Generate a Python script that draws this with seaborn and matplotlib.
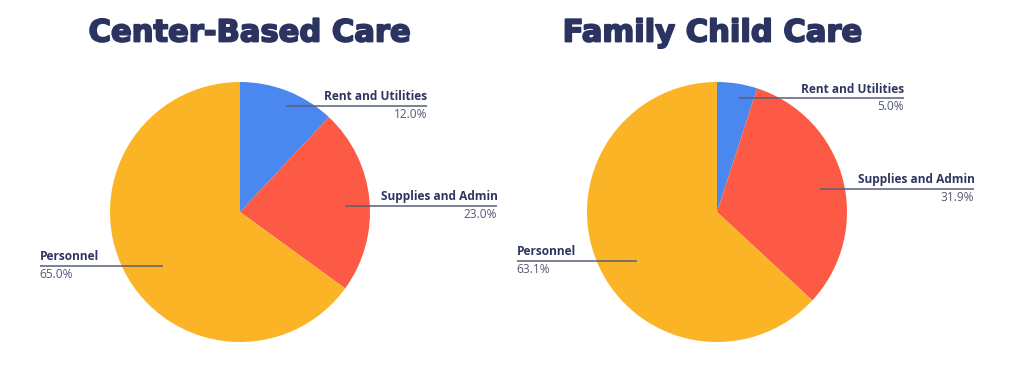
import numpy as np
import matplotlib
matplotlib.use("Agg")
import matplotlib.pyplot as plt
import matplotlib.patheffects as pe
import seaborn as sns

# =========================
# DATA
# =========================
categories = ["Rent and Utilities", "Supplies and Admin", "Personnel"]
center_values = [12.0, 23.0, 65.0]
family_values = [5.0, 31.9, 63.1]
titles = ["Center-Based Care", "Family Child Care"]
colors = ["#4a87ee", "#fd5a46", "#fbb426"]

# label layout per slice: (anchor radius, angle shift, label end x in radii)
label_layout = [(0.89, -2, 1.44), (0.81, -2, 1.98), (0.72, 8, -1.54)]

sns.set_theme(style="white")
plt.rcParams["font.family"] = ["Open Sans", "DejaVu Sans"]

TITLE_COLOR = "#2b3360"
LABEL_COLOR = "#2e3561"
PCT_COLOR = "#555a76"
LINE_COLOR = "#5a5e78"

W, H, R = 1009, 365, 130.0
fig = plt.figure(figsize=(W / 100, H / 100), dpi=100)

# pie centres in pixels (from top-left)
centres = [(240, 212), (717, 212)]
title_x = [249, 712]
halves = [(0, 504.5), (504.5, W)]

for (cx, cy), (x0, x1), values, title, tx in zip(centres, halves,
                                                 [center_values, family_values],
                                                 titles, title_x):
    ax = fig.add_axes([x0 / W, 0, (x1 - x0) / W, 1])
    wedges, _ = ax.pie(values, colors=colors, startangle=90, counterclock=False,
                       radius=1, wedgeprops=dict(linewidth=0))
    ax.set_xlim(-(cx - x0) / R, (x1 - cx) / R)
    ax.set_ylim(-(H - cy) / R, cy / R)
    ax.set_aspect("equal")
    ax.axis("off")

    for w, cat, val, (r, dth, lx) in zip(wedges, categories, values, label_layout):
        mid = np.deg2rad((w.theta1 + w.theta2) / 2 + dth)
        ax_, ay_ = r * np.cos(mid), r * np.sin(mid)
        ax.plot([ax_, lx], [ay_, ay_], color=LINE_COLOR, lw=1.1,
                solid_capstyle="butt", zorder=3)
        ha = "right" if lx > 0 else "left"
        ax.text(lx, ay_ + 0.02, cat, ha=ha, va="bottom", fontsize=8.6,
                fontweight="bold", color=LABEL_COLOR)
        ax.text(lx, ay_ - 0.015, f"{val:.1f}%", ha=ha, va="top", fontsize=8.6,
                color=PCT_COLOR)

    fig.text(tx / W, 1 - 33 / H, title, ha="center", va="center",
             fontsize=22, fontweight="bold", color=TITLE_COLOR,
             family=["DejaVu Sans"],
             path_effects=[pe.withStroke(linewidth=1.3, foreground=TITLE_COLOR)])

fig.savefig("out.png", dpi=100, facecolor="white")
